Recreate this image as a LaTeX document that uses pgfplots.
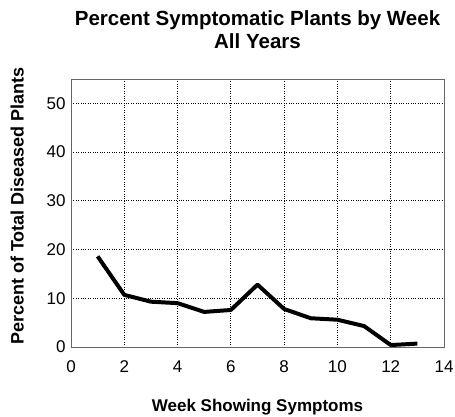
\documentclass[border=0pt]{standalone}
\usepackage{pgfplots}
\pgfplotsset{compat=1.18}
\usepackage{fontspec}
\setmainfont{Liberation Sans}
\begin{document}
\begin{tikzpicture}[x=1bp,y=1bp]
\useasboundingbox (0,0) rectangle (455,416);
\begin{axis}[
  at={(71bp,69bp)}, anchor=south west,
  scale only axis, width=373bp, height=268bp,
  xmin=0, xmax=14, ymin=0, ymax=55,
  xtick={0,2,...,14}, ytick={0,10,...,50},
  grid=major,
  major grid style={black, dotted, line width=0.8pt},
  axis line style={black!60},
  tick style={draw=none},
  /pgf/number format/assume math mode=true,
  tick label style={font=\fontsize{17bp}{19bp}\selectfont},
  xticklabel style={yshift=-10bp},
  yticklabel style={xshift=-2bp},
  title style={font=\bfseries\fontsize{20.5bp}{23bp}\selectfont, align=center, yshift=21bp},
  title={Percent Symptomatic Plants by Week\\All Years},
  xlabel={Week Showing Symptoms},
  ylabel={Percent of Total Diseased Plants},
  xlabel style={font=\bfseries\fontsize{17bp}{19bp}\selectfont, yshift=-20bp},
  ylabel style={font=\bfseries\fontsize{18bp}{20bp}\selectfont, yshift=16bp, xshift=7bp},
]
\addplot[black, line width=4pt, line join=round] coordinates {
(1,18.6) (2,10.7) (3,9.3) (4,9.0) (5,7.2) (6,7.6) (7,12.8) (8,7.8) (9,5.9) (10,5.6) (11,4.3) (12,0.4) (13,0.7)
};
\end{axis}
\end{tikzpicture}
\end{document}
